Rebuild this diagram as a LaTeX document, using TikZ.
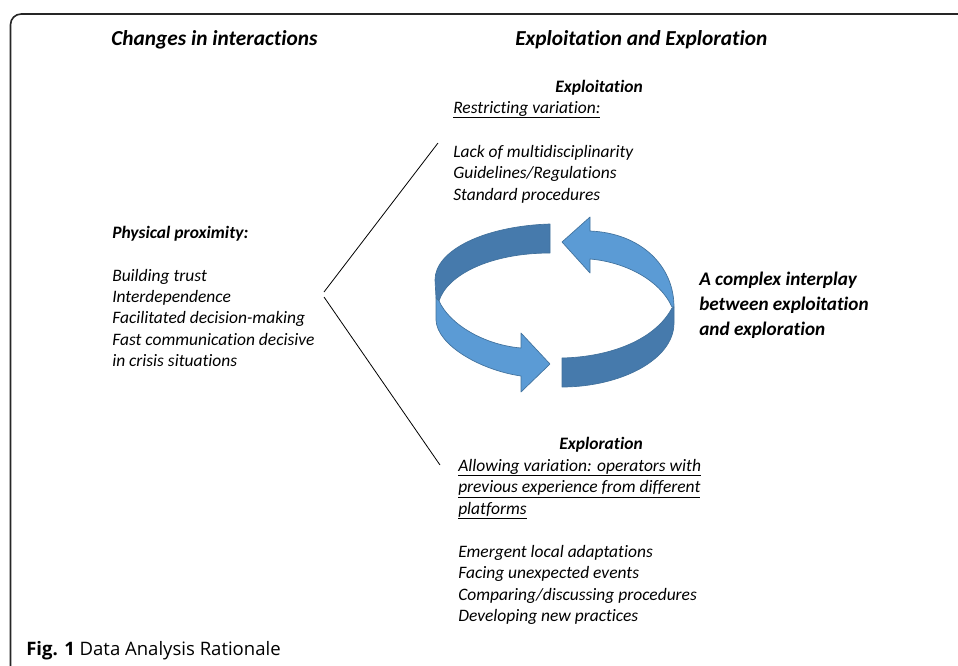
\documentclass[tikz,border=0pt]{standalone}
\usepackage{fontspec}
\setmainfont{Carlito}[Ligatures=NoCommon, Contextuals=NoAlternate]
\newfontfamily\capfont{Open Sans}
\newcommand\myul[1]{\setbox0\hbox{#1}\rlap{\rule[-3.6pt]{\wd0}{0.7pt}}\box0}
\definecolor{lightblue}{RGB}{91,155,213}
\definecolor{darkblue}{RGB}{70,122,172}
\definecolor{edgeblue}{RGB}{65,113,156}
\tikzset{
  txt/.style={anchor=base west, inner sep=0pt, font=\fontsize{13.1}{15.95}\selectfont\itshape},
  hdr/.style={anchor=base west, inner sep=0pt, font=\fontsize{13.1}{15.95}\selectfont\bfseries\itshape},
  ttl/.style={anchor=base west, inner sep=0pt, font=\fontsize{16}{19}\selectfont\bfseries\itshape},
  big/.style={anchor=base west, inner sep=0pt, font=\fontsize{14.4}{18.75}\selectfont\bfseries\itshape},
  lightpart/.style={fill=lightblue, draw=edgeblue, line width=0.5pt, line join=round},
  darkpart/.style={fill=darkblue, draw=edgeblue, line width=0.5pt, line join=round},
  link/.style={draw=black, line width=0.6pt},
}
\begin{document}
\begin{tikzpicture}[x=0.75pt, y=-0.75pt]
\useasboundingbox (0,0) rectangle (958,665);
% frame
\draw[line width=1.2pt, rounded corners=8pt, black!85] (958,14) -- (10.5,14) -- (10.5,666);
% titles
\node[ttl] (t1) at (111,45.7) {Changes in interactions};
\node[ttl] (t2) at (515,45.3) {Exploitation and Exploration};
% left block
\node[hdr] (phys) at (112,238.7) {Physical proximity:};
\node[txt, font=\fontsize{13.1}{16.1}\selectfont\itshape] (list1) at (112,281) {\begin{tabular}[t]{@{}l@{}}Building trust\\Interdependence\\Facilitated decision-making\\Fast communication decisive\\in crisis situations\end{tabular}};
% exploitation block
\node[hdr, anchor=base east] (exploit) at (643,92.7) {Exploitation};
\node[txt] (restr) at (453,113.3) {\myul{Restricting variation:}};
\node[txt] (list2) at (453,157.7) {\begin{tabular}[t]{@{}l@{}}Lack of multidisciplinarity\\Guidelines/Regulations\\Standard procedures\end{tabular}};
% exploration block
\node[hdr, anchor=base east] (explor) at (643,449.7) {Exploration};
\node[txt] (allow) at (458,471.5) {\begin{tabular}[t]{@{}l@{}}\myul{Allowing variation: operators with}\\\myul{previous experience from different}\\\myul{platforms}\end{tabular}};
\node[txt] (list3) at (458,557.7) {\begin{tabular}[t]{@{}l@{}}Emergent local adaptations\\Facing unexpected events\\Comparing/discussing procedures\\Developing new practices\end{tabular}};
% interplay
\node[big] (inter) at (699,285.3) {\begin{tabular}[t]{@{}l@{}}A complex interplay\\between exploitation\\and exploration\end{tabular}};
% connector lines
\coordinate (v1) at (438,143);
\coordinate (v2) at (324,292);
\coordinate (v3) at (324,297);
\coordinate (v4) at (440,465);
\draw[link] (v1) -- (v2);
\draw[link] (v3) -- (v4);
% circular arrows
% dark top-left (back)
\filldraw[darkpart] (550,224) .. controls (485,226) and (435,250) .. (435,280)
  -- (436,298) -- (439,301)
  .. controls (447,275) and (490,253) .. (550,253) -- cycle;
% light bottom-left (front, arrow head)
\filldraw[lightpart] (439,301) .. controls (450,325) and (485,345) .. (521,348)
  -- (521,333) -- (550,364) -- (521,392) -- (521,376)
  .. controls (480,370) and (437,345) .. (436,320) -- (436,298) -- cycle;
% light top-right (arrow head)
\filldraw[lightpart] (562,242) -- (590,217) -- (590,231)
  .. controls (640,233) and (674,265) .. (674,307) -- (672,307)
  .. controls (660,280) and (625,262) .. (590,259) -- (590,273) -- cycle;
% dark bottom-right
\filldraw[darkpart] (672,308) .. controls (655,340) and (610,357) .. (562,358)
  -- (562,387) .. controls (620,387) and (674,360) .. (674,323) -- (674,307) -- cycle;
% caption
\node[anchor=base west, inner sep=0pt, font=\capfont\fontsize{13.9}{16}\selectfont] (cap) at (26,655) {\textbf{Fig. 1} Data Analysis Rationale};
\end{tikzpicture}
\end{document}
